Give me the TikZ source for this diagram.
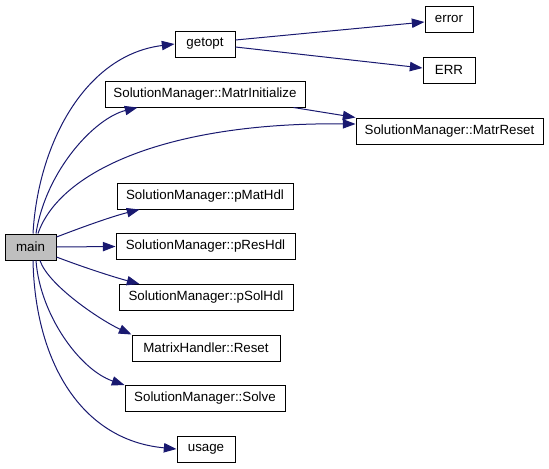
\documentclass[tikz,border=0pt]{standalone}
\usepackage{fontspec}
\setmainfont{Liberation Sans}
\usetikzlibrary{arrows.meta,calc}
\definecolor{edgeblue}{HTML}{191970}
\definecolor{maingray}{HTML}{BFBFBF}
\begin{document}
\begin{tikzpicture}[x=0.75pt,y=-0.75pt,
  box/.style={draw=black,line width=0.75pt,fill=white,rectangle,inner sep=0pt,
    minimum height=19.5pt,font=\fontsize{10pt}{12pt}\selectfont},
  edge/.style={draw=edgeblue,line width=0.75pt,
    -{Triangle[length=9.5pt,width=7pt,fill=edgeblue]}}]
\useasboundingbox (0,0) rectangle (549,468);
\node[box,fill=maingray,minimum width=38.25pt] (main) at (30.5,247) {main};
\node[box,minimum width=45pt] (getopt) at (205,44) {getopt};
\node[box,minimum width=150pt] (MatrInitialize) at (205,94) {SolutionManager::MatrInitialize};
\node[box,minimum width=36pt] (error) at (449,19) {error};
\node[box,minimum width=39pt] (ERR) at (449,70) {ERR};
\node[box,minimum width=140.25pt] (MatrReset) at (449.5,131) {SolutionManager::MatrReset};
\node[box,minimum width=132pt] (pMatHdl) at (205,196) {SolutionManager::pMatHdl};
\node[box,minimum width=134.25pt] (pResHdl) at (205.5,246.5) {SolutionManager::pResHdl};
\node[box,minimum width=130.5pt] (pSolHdl) at (206,297.5) {SolutionManager::pSolHdl};
\node[box,minimum width=111pt] (MHReset) at (206,348) {MatrixHandler::Reset};
\node[box,minimum width=120pt] (Solve) at (205,398.5) {SolutionManager::Solve};
\node[box,minimum width=43.5pt] (usage) at (206,449) {usage};

\draw[edge] ($(main.north)+(2.5,0)$) .. controls (38,144) and (85,55) .. (getopt.west);
\draw[edge] ($(main.north)+(5.5,0)$) .. controls (46,170) and (95,118) .. ($(MatrInitialize.south west)+(33,0)$);
\draw[edge] ($(main.north)+(7.5,0)$) .. controls (60,170) and (170,122) .. ($(MatrReset.west)+(0,-7)$);
\draw[edge] ($(MatrInitialize.south east)+(-12,0)$) -- (MatrReset.north west);
\draw[edge] ($(getopt.east)+(0,-4)$) -- ($(error.west)+(0,3)$);
\draw[edge] ($(getopt.east)+(0,3)$) -- ($(ERR.west)+(0,-2)$);
\draw[edge] ($(main.east)+(0,-10)$) .. controls (80,228) and (110,217) .. ($(pMatHdl.south west)+(23,0)$);
\draw[edge] (main.east) -- (pResHdl.west);
\draw[edge] ($(main.east)+(0,10)$) .. controls (80,266) and (110,276) .. ($(pSolHdl.north west)+(21,0)$);
\draw[edge] ($(main.south)+(9.5,0)$) .. controls (48,285) and (100,320) .. (MHReset.north west);
\draw[edge] ($(main.south)+(5.5,0)$) .. controls (40,315) and (80,370) .. (Solve.north west);
\draw[edge] ($(main.south)+(2.5,0)$) .. controls (35,360) and (80,440) .. (usage.west);
\end{tikzpicture}
\end{document}
